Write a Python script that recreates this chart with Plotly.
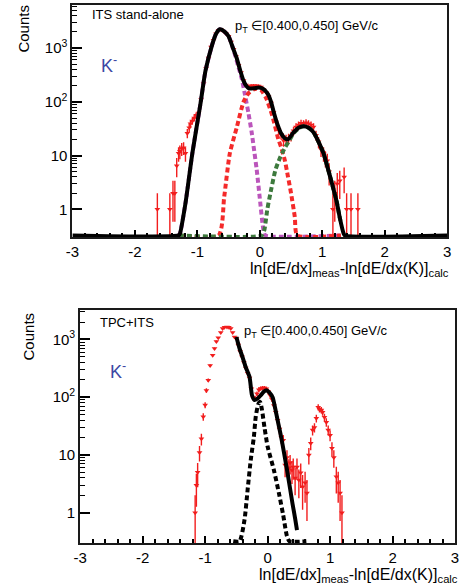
import numpy as np
import plotly.graph_objects as go

# ---------------- ITS stand-alone (upper panel) ----------------
ITS_X = [-1.64, -1.44, -1.39, -1.36, -1.33, -1.30, -1.28, -1.25, -1.22, -1.19, -1.16, -1.13, -1.11,
         -1.08, -1.05, -1.02, -0.98, -0.94, -0.90, -0.86, -0.82, -0.78, -0.74, -0.70, -0.66, -0.62,
         -0.58, -0.54, -0.50, -0.46, -0.42, -0.38, -0.34, -0.30, -0.26, -0.22, -0.18, -0.14, -0.10,
         -0.06, -0.02, 0.02, 0.06, 0.10, 0.14, 0.18, 0.22, 0.26, 0.30, 0.34, 0.38, 0.42, 0.46, 0.50,
         0.54, 0.58, 0.62, 0.66, 0.70, 0.74, 0.78, 0.82, 0.86, 0.90, 0.94, 0.98, 1.02, 1.05, 1.08,
         1.11, 1.17, 1.20, 1.24, 1.28, 1.35, 1.39, 1.46, 1.57]
ITS_COUNTS = [1, 1, 2, 2, 6.5, 11, 12, 13.5, 14, 11, 26, 33, 39,
              44, 50, 56, 62, 110, 220, 420, 650, 1050, 1400, 1850, 2150, 2200,
              2050, 1850, 1650, 1300, 950, 700, 480, 350, 250, 205, 190, 198, 200,
              198, 196, 188, 170, 150, 125, 95, 64, 42, 30, 25, 19, 20, 21, 23,
              29, 34, 37, 40, 39, 41, 39, 37, 34, 24, 18, 13, 11, 9, 8,
              5, 1, 2, 3, 3.4, 4, 1, 1, 1]

# total fit (0 = below the frame)
ITS_FIT_X = [-3.0, -1.30, -1.28, -1.19, -1.08, -0.95, -0.87, -0.76, -0.70, -0.64, -0.57, -0.50, -0.43,
             -0.37, -0.31, -0.26, -0.22, -0.18, -0.10, -0.02, 0.05, 0.13, 0.18, 0.23, 0.29, 0.34,
             0.40, 0.45, 0.54, 0.62, 0.70, 0.78, 0.86, 0.94, 1.02, 1.10, 1.17, 1.23, 1.28, 1.34,
             1.36, 3.0]
ITS_FIT_Y = [0, 0, 0.35, 1.3, 11, 92, 375, 1180, 1850, 2240, 2050, 1660, 1000,
             650, 370, 245, 200, 180, 178, 185, 175, 140, 100, 60, 36, 26,
             21, 20, 27, 33, 35, 33, 27, 18, 11, 5.2, 2.6, 1.4, 0.7, 0.36,
             0, 0]

# kaon component
ITS_K_X = [-1.30, -1.28, -1.19, -1.08, -0.95, -0.87, -0.76, -0.70, -0.64, -0.57, -0.50, -0.43,
           -0.37, -0.29, -0.24, -0.18, -0.13, -0.10, -0.05, 0.0, 0.06, 0.09, 1.30]
ITS_K_Y = [0, 0.35, 1.3, 11, 92, 375, 1180, 1850, 2240, 2050, 1660, 1000,
           580, 270, 140, 60, 27, 15, 5.5, 1.6, 0.4, 0, 0]

# pion component
ITS_PI_X = [-1.30, -0.66, -0.57, -0.48, -0.37, -0.26, -0.18, -0.10, -0.05, 0.02, 0.10, 0.20,
            0.30, 0.34, 0.40, 0.45, 0.50, 0.56, 0.60, 1.30]
ITS_PI_Y = [0, 0, 1.7, 11, 33, 100, 145, 170, 175, 165, 118, 55,
            19.5, 14.6, 8.2, 4.1, 2.0, 0.73, 0, 0]

# electron component
ITS_E_X = [-1.30, 0.03, 0.07, 0.12, 0.17, 0.25, 0.33, 0.41, 0.46, 0.54, 0.62, 0.70, 0.78, 0.86,
           0.94, 1.02, 1.10, 1.17, 1.23, 1.28, 1.30]
ITS_E_Y = [0, 0, 0.4, 1.0, 2.0, 5.4, 9.5, 14.5, 18, 26, 32, 35, 33, 27,
           18, 11, 5.2, 2.6, 1.4, 0.7, 0.55]

# ---------------- TPC+ITS (lower panel) ----------------
TPC_X = [-1.16, -1.14, -1.12, -1.09, -1.06, -1.03, -1.00, -0.98, -0.95, -0.92, -0.88, -0.85, -0.82,
         -0.79, -0.75, -0.72, -0.69, -0.65, -0.62, -0.59, -0.56, -0.53, -0.50, -0.47, -0.44, -0.41,
         -0.38, -0.35, -0.32, -0.29, -0.26, -0.23, -0.20, -0.17, -0.14, -0.11, -0.08, -0.05, -0.02,
         0.01, 0.04, 0.07, 0.10, 0.13, 0.16, 0.19, 0.22, 0.25, 0.28, 0.31, 0.34, 0.36, 0.39, 0.41,
         0.44, 0.47, 0.50, 0.53, 0.56, 0.60, 0.63, 0.66, 0.69, 0.72, 0.75, 0.78, 0.81, 0.83, 0.86,
         0.88, 0.91, 0.94, 0.97, 1.00, 1.03, 1.06, 1.10, 1.13, 1.16, 1.19]
TPC_COUNTS = [1, 3, 5, 11, 19, 46, 73, 131, 197, 355, 530, 700, 925,
              1075, 1320, 1550, 1620, 1650, 1620, 1550, 1320, 1100, 1050, 800, 620, 500,
              400, 320, 260, 215, 140, 98, 96, 115, 135, 142, 145, 145, 140,
              125, 108, 92, 72, 55, 40, 28, 20, 18, 6.7, 9, 6, 7.3, 5.5, 6.2,
              4, 6.2, 3.7, 4.9, 2.8, 3.3, 2.2, 10, 16, 27, 30, 43, 67, 62, 60,
              55, 45, 37, 27, 22, 13, 9, 4.2, 3.3, 2.2, 1]

TPC_FIT_X = [-0.50, -0.45, -0.40, -0.35, -0.29, -0.25, -0.21, -0.16, -0.11, -0.06, -0.02, 0.03,
             0.08, 0.12, 0.16, 0.20, 0.24, 0.28, 0.32, 0.36, 0.40, 0.44, 0.47]
TPC_FIT_Y = [1100, 700, 490, 330, 225, 108, 89, 95, 108, 125, 132, 120,
             100, 65, 40, 25, 15, 8.5, 4.8, 2.6, 1.4, 0.8, 0.5]

TPC_PI_X = [-0.55, -0.45, -0.37, -0.32, -0.27, -0.22, -0.19, -0.15, -0.12, -0.09, -0.05, 0.0,
            0.10, 0.18, 0.25, 0.31, 0.35, 0.62]
TPC_PI_Y = [0, 0, 0.75, 2.5, 8.2, 20.6, 46, 75, 83, 60, 30, 14,
            5.5, 2.2, 0.9, 0.39, 0, 0]

X_TICKS = [-3, -2, -1, 0, 1, 2, 3]
X_TICK_LABELS = ["-3", "-2", "-1", "0", "1", "2", "3"]
Y_TICKS = [1, 10, 100, 1000]
Y_TICK_LABELS = ["1", "10", "10<sup>2</sup>", "10<sup>3</sup>"]
Y_MINOR = [m * 10 ** d for d in range(0, 4) for m in range(2, 10)]

ITS_YRANGE = [-0.52, 3.81]
TPC_YRANGE = [-0.53, 3.51]

FONT = "Liberation Sans, Arial, Helvetica, sans-serif"
RED = "#f21d1d"
W, H = 460, 588


def floored(vals, yrange):
    # values under the frame are drawn along the lower edge
    return np.maximum(np.asarray(vals, float), 10 ** (yrange[0] + 0.035))


def data_trace(x, counts, xa, ya):
    c = np.asarray(counts, float)
    err = np.sqrt(c)
    return go.Scatter(
        x=x, y=c, mode="markers", xaxis=xa, yaxis=ya, showlegend=False,
        marker=dict(symbol="triangle-down", size=5, color=RED, line=dict(width=0)),
        error_y=dict(type="data", array=err, arrayminus=np.minimum(err, c * 0.999),
                     color=RED, thickness=1.4, width=0),
    )


def curve(x, y, yrange, color, xa, ya, dash="solid", width=4):
    return go.Scatter(
        x=x, y=floored(y, yrange), mode="lines", xaxis=xa, yaxis=ya, showlegend=False,
        line=dict(color=color, width=width, dash=dash, shape="spline", smoothing=0.6),
        hoverinfo="skip",
    )


DOT = "5px,3px"
fig = go.Figure()
fig.add_trace(data_trace(ITS_X, ITS_COUNTS, "x", "y"))
fig.add_trace(curve(ITS_K_X, ITS_K_Y, ITS_YRANGE, "#bb55bb", "x", "y", DOT))
fig.add_trace(curve(ITS_PI_X, ITS_PI_Y, ITS_YRANGE, "#f42a2a", "x", "y", DOT))
fig.add_trace(curve(ITS_E_X, ITS_E_Y, ITS_YRANGE, "#3d7a3d", "x", "y", DOT))
fig.add_trace(curve(ITS_FIT_X, ITS_FIT_Y, ITS_YRANGE, "black", "x", "y"))

fig.add_trace(data_trace(TPC_X, TPC_COUNTS, "x2", "y2"))
fig.add_trace(curve(TPC_PI_X, TPC_PI_Y, TPC_YRANGE, "black", "x2", "y2", DOT))
fig.add_trace(curve(TPC_FIT_X, TPC_FIT_Y, TPC_YRANGE, "black", "x2", "y2"))


def xaxis(domain, anchor):
    return dict(
        domain=domain, anchor=anchor, range=[-3, 3], tickmode="array",
        tickvals=X_TICKS, ticktext=X_TICK_LABELS, ticks="inside", ticklen=7,
        tickwidth=1.5, tickcolor="black", showgrid=False, zeroline=False,
        showline=True, linecolor="#1a1a1a", linewidth=2, mirror=True,
        tickfont=dict(family=FONT, size=15, color="black"),
        minor=dict(tick0=0, dtick=0.2, ticks="inside", ticklen=4, tickwidth=1.5,
                   tickcolor="black", showgrid=False),
    )


def yaxis(domain, anchor, yrange):
    return dict(
        domain=domain, anchor=anchor, type="log", range=yrange, tickmode="array",
        tickvals=Y_TICKS, ticktext=Y_TICK_LABELS, ticks="inside", ticklen=10,
        tickwidth=1.5, tickcolor="black", showgrid=False, zeroline=False,
        showline=True, linecolor="#1a1a1a", linewidth=2, mirror=True,
        tickfont=dict(family=FONT, size=15, color="black"),
        minor=dict(tickmode="array", tickvals=Y_MINOR, ticks="inside", ticklen=5,
                   tickwidth=1.2, tickcolor="black", showgrid=False),
    )


fig.update_layout(
    width=W, height=H, margin=dict(l=0, r=0, t=0, b=0),
    paper_bgcolor="white", plot_bgcolor="white", showlegend=False,
    xaxis=xaxis([67 / W, 451 / W], "y"),
    yaxis=yaxis([1 - 237.3 / H, 1 - 4.5 / H], "x", ITS_YRANGE),
    xaxis2=xaxis([75 / W, 459 / W], "y2"),
    yaxis2=yaxis([1 - 543.3 / H, 1 - 310 / H], "x2", TPC_YRANGE),
)

XTITLE = "ln[dE/dx]<sub>meas</sub>-ln[dE/dx(K)]<sub>calc</sub>"
PT = "p<sub>T</sub> \u2208[0.400,0.450] GeV/c"


def note(text, px, py, size, xanchor="left", yanchor="middle", color="black", angle=0):
    fig.add_annotation(
        text=text, x=px / W, y=1 - py / H, xref="paper", yref="paper",
        xanchor=xanchor, yanchor=yanchor, showarrow=False, textangle=angle,
        font=dict(family=FONT, size=size, color=color),
    )


# upper panel labels
note("ITS stand-alone", 85, 15, 13)
note("K<sup>-</sup>", 94, 65, 18, color="#3b47a3")
note(PT, 232, 26, 13)
note("Counts", 16, 29, 15, xanchor="center", angle=-90)
note(XTITLE, 247, 269, 16)

# lower panel labels
note("TPC+ITS", 93, 322, 13)
note("K<sup>-</sup>", 103, 370, 18, color="#3b47a3")
note(PT, 241, 331, 13)
note("Counts", 22, 336, 15, xanchor="center", angle=-90)
note(XTITLE, 256, 575, 16)

fig.write_html("out.html")
